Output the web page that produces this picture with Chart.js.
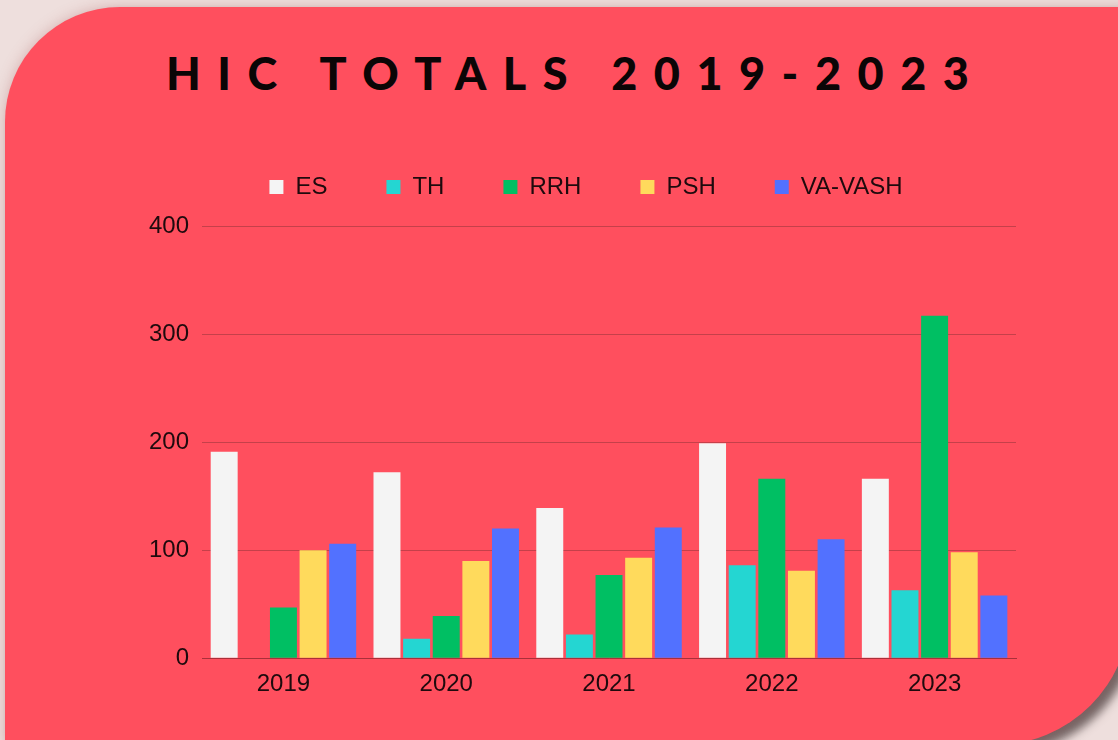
<!DOCTYPE html>
<html lang="en">
<head>
<meta charset="UTF-8">
<title>HIC Totals 2019-2023</title>
<script src="https://cdn.jsdelivr.net/npm/chart.js"></script>
<style>
  html, body { margin: 0; padding: 0; }
  body {
    width: 1118px; height: 740px; overflow: hidden; position: relative;
    background: #eedfdd;
  }
  .card {
    position: absolute; left: 5px; top: 7px; width: 1125px; height: 738px;
    background: #ff4f5e;
    border-radius: 115px 0 135px 0;
    box-shadow: 0 0 14px rgba(170, 90, 90, 0.35), 8px 8px 10px rgba(60, 50, 50, 0.7);
  }
  .title {
    position: absolute; left: 166px; top: 46px;
    font-family: "Lato", "DejaVu Sans", sans-serif; font-weight: 900;
    font-size: 45px; letter-spacing: 16.5px; color: #0b0506; white-space: nowrap;
  }
  .wrap { position: absolute; left: 0; top: 0; width: 1118px; height: 740px; }
</style>
</head>
<body>
<div class="card"></div>
<div class="title">HIC TOTALS 2019-2023</div>
<div class="wrap"><canvas id="hic"></canvas></div>
<script>
// data
const years = ['2019', '2020', '2021', '2022', '2023'];
const es     = [191, 172, 139, 199, 166];
const th     = [0, 18, 22, 86, 63];
const rrh    = [47, 39, 77, 166, 317];
const psh    = [100, 90, 93, 81, 98];
const vaVash = [106, 120, 121, 110, 58];

const ink = '#1e0a0d';

// more room under the legend, and nudge it a little to the right
const legendTweak = {
  id: 'legendTweak',
  beforeInit(chart) {
    const fit = chart.legend.fit;
    chart.legend.fit = function () {
      fit.bind(chart.legend)();
      this.height += 17;
    };
  },
  afterLayout(chart) {
    chart.legend.left += 10;
    chart.legend.right += 10;
  }
};

new Chart(document.getElementById('hic'), {
  type: 'bar',
  data: {
    labels: years,
    datasets: [
      { label: 'ES', data: es, backgroundColor: '#f4f4f4' },
      { label: 'TH', data: th, backgroundColor: '#24d6d2' },
      { label: 'RRH', data: rrh, backgroundColor: '#00bf63' },
      { label: 'PSH', data: psh, backgroundColor: '#ffda5c' },
      { label: 'VA-VASH', data: vaVash, backgroundColor: '#5271ff' }
    ]
  },
  plugins: [legendTweak],
  options: {
    responsive: true,
    maintainAspectRatio: false,
    animation: false,
    categoryPercentage: 0.91,
    barPercentage: 0.91,
    layout: { padding: { top: 116, left: 136, right: 102, bottom: 37 } },
    plugins: {
      tooltip: { enabled: false },
      legend: {
        position: 'top',
        labels: {
          boxWidth: 14, boxHeight: 14, padding: 59,
          color: ink,
          font: { family: 'Liberation Sans', size: 24 }
        }
      }
    },
    scales: {
      x: {
        grid: { display: false },
        border: { color: '#a8303a', width: 1 },
        ticks: { color: ink, padding: 4, font: { family: 'Liberation Sans', size: 24 } }
      },
      y: {
        min: 0, max: 400,
        border: { display: false },
        grid: { color: '#c5404a', lineWidth: 1, drawTicks: false },
        ticks: { stepSize: 100, color: ink, padding: 13, font: { family: 'Liberation Sans', size: 24 } }
      }
    }
  }
});
</script>
</body>
</html>
